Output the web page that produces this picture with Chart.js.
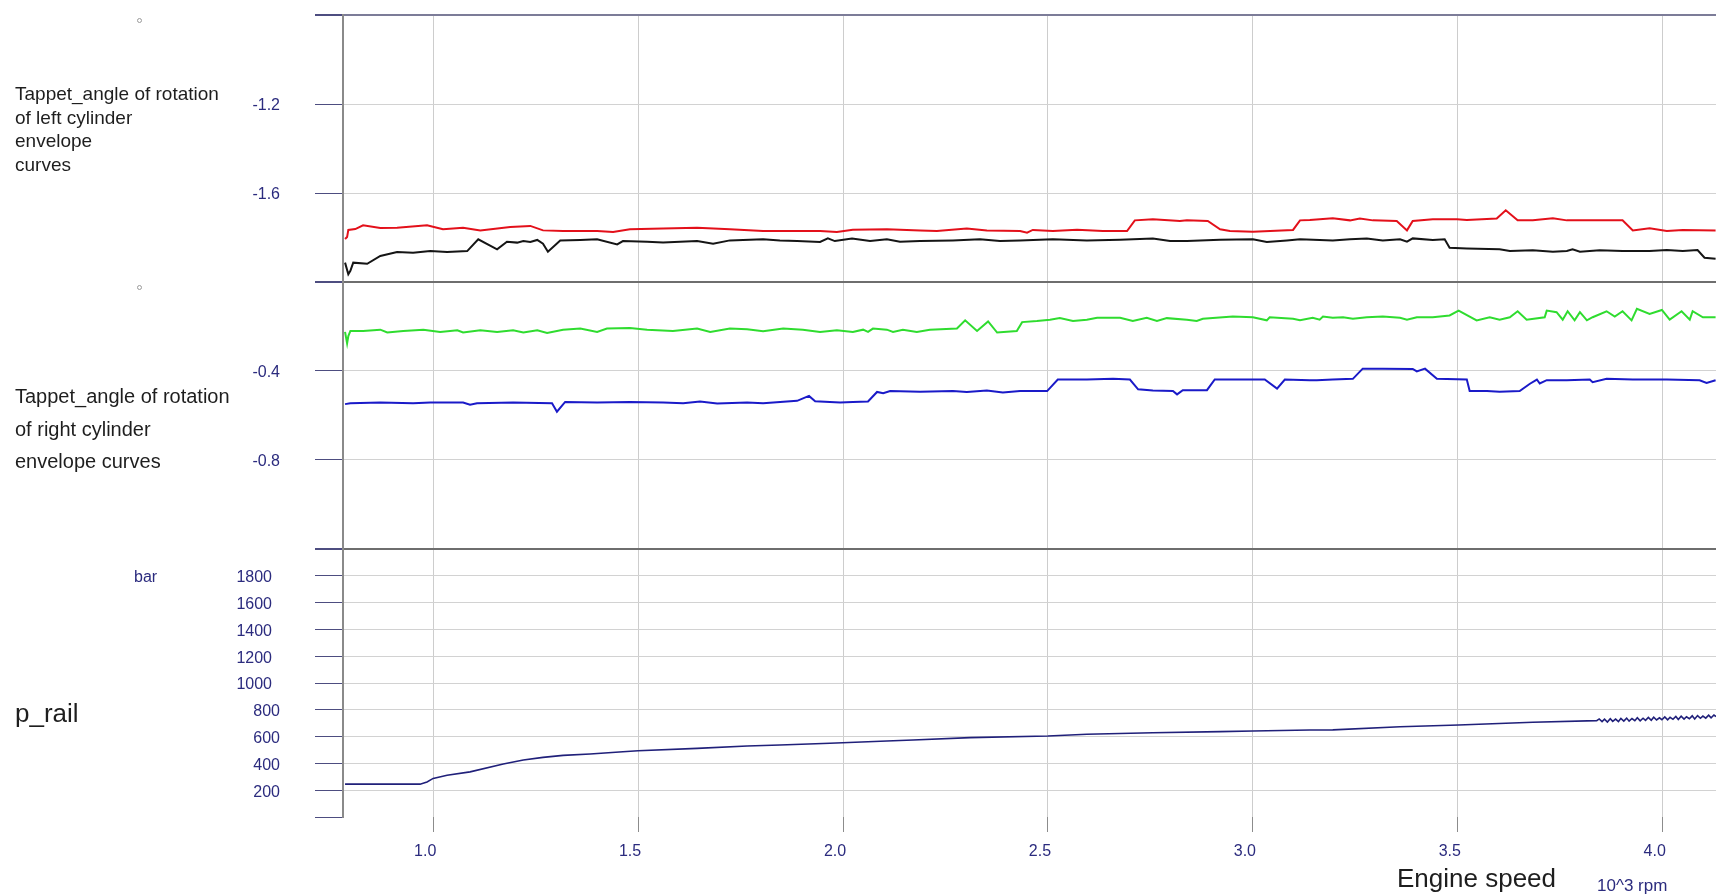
<!DOCTYPE html>
<html>
<head>
<meta charset="utf-8">
<title>Tappet angle envelope curves and rail pressure</title>
<script src="https://cdn.jsdelivr.net/npm/chart.js@4.4.1/dist/chart.umd.min.js"></script>
<style>
  html, body { margin: 0; padding: 0; background: #fff; }
  body { width: 1716px; height: 896px; position: relative; overflow: hidden; font-family: 'Liberation Sans', Arial, sans-serif; }
  canvas { position: absolute; left: 0; }
  .label { position: absolute; color: #1e1e1e; white-space: nowrap; }
  .unit { color: #2b2b7e; }
  .dot { position: absolute; width: 3px; height: 3px; border: 1px solid #9a9a9a; border-radius: 50%; }
</style>
</head>
<body>
<canvas id="left-chart" width="1716" height="292" style="top:0"></canvas>
<canvas id="right-chart" width="1716" height="286" style="top:272px"></canvas>
<canvas id="rail-chart" width="1716" height="357" style="top:539px"></canvas>

<div class="dot" style="left:137px; top:18px"></div>
<div class="dot" style="left:137px; top:285px"></div>

<div class="label" style="left:15px; top:82px; font-size:19px; line-height:23.6px;">Tappet_angle of rotation<br>of left cylinder<br>envelope<br>curves</div>
<div class="label" style="left:15px; top:380px; font-size:20px; line-height:32.5px;">Tappet_angle of rotation<br>of right cylinder<br>envelope curves</div>
<div class="label" style="left:15px; top:700px; font-size:26px; line-height:26px;">p_rail</div>
<div class="label unit" style="left:134px; top:569px; font-size:16px; line-height:16px;">bar</div>
<div class="label" style="left:1397px; top:865px; font-size:26px; line-height:26px;">Engine speed</div>
<div class="label unit" style="left:1597px; top:877px; font-size:17px; line-height:17px;">10^3 rpm</div>

<script>
// engine speed in 10^3 rpm, one x array per trace
const redX = [0.785, 0.790, 0.793, 0.810, 0.829, 0.871, 0.912, 0.985, 1.024, 1.073, 1.115, 1.188, 1.237, 1.268, 1.317, 1.400, 1.439, 1.480, 1.561, 1.644, 1.724, 1.805, 1.888, 1.944, 1.985, 2.024, 2.107, 2.188, 2.229, 2.302, 2.351, 2.432, 2.449, 2.463, 2.512, 2.571, 2.634, 2.693, 2.712, 2.756, 2.822, 2.839, 2.890, 2.920, 2.944, 3.000, 3.098, 3.115, 3.139, 3.195, 3.237, 3.261, 3.293, 3.351, 3.376, 3.390, 3.439, 3.498, 3.522, 3.595, 3.617, 3.646, 3.683, 3.732, 3.766, 3.846, 3.902, 3.927, 3.968, 4.010, 4.049, 4.129];
const redY = [-1.807, -1.798, -1.766, -1.762, -1.745, -1.757, -1.756, -1.745, -1.763, -1.756, -1.768, -1.753, -1.748, -1.768, -1.771, -1.771, -1.775, -1.763, -1.759, -1.756, -1.763, -1.771, -1.771, -1.771, -1.775, -1.765, -1.763, -1.768, -1.771, -1.760, -1.768, -1.771, -1.778, -1.766, -1.771, -1.765, -1.771, -1.771, -1.723, -1.718, -1.726, -1.723, -1.726, -1.763, -1.771, -1.774, -1.766, -1.723, -1.721, -1.714, -1.723, -1.715, -1.723, -1.726, -1.768, -1.726, -1.718, -1.718, -1.721, -1.715, -1.678, -1.723, -1.723, -1.714, -1.723, -1.723, -1.723, -1.768, -1.759, -1.771, -1.766, -1.768];

const blackX = [0.785, 0.793, 0.798, 0.805, 0.839, 0.871, 0.912, 0.951, 0.993, 1.034, 1.083, 1.110, 1.156, 1.180, 1.205, 1.220, 1.237, 1.254, 1.268, 1.280, 1.310, 1.359, 1.400, 1.449, 1.463, 1.522, 1.561, 1.644, 1.683, 1.724, 1.805, 1.846, 1.888, 1.944, 1.963, 1.980, 2.022, 2.066, 2.107, 2.139, 2.188, 2.268, 2.334, 2.383, 2.432, 2.512, 2.595, 2.676, 2.756, 2.798, 2.839, 2.920, 3.000, 3.034, 3.083, 3.115, 3.195, 3.237, 3.278, 3.317, 3.359, 3.376, 3.390, 3.439, 3.468, 3.480, 3.522, 3.602, 3.627, 3.683, 3.732, 3.766, 3.780, 3.798, 3.846, 3.902, 3.968, 4.010, 4.049, 4.085, 4.102, 4.129];
const blackY = [-1.913, -1.965, -1.950, -1.913, -1.918, -1.883, -1.865, -1.868, -1.861, -1.865, -1.861, -1.808, -1.853, -1.819, -1.823, -1.816, -1.820, -1.811, -1.828, -1.864, -1.813, -1.811, -1.808, -1.831, -1.816, -1.819, -1.823, -1.816, -1.828, -1.813, -1.808, -1.813, -1.816, -1.820, -1.804, -1.816, -1.804, -1.816, -1.808, -1.819, -1.816, -1.813, -1.808, -1.816, -1.813, -1.808, -1.813, -1.810, -1.805, -1.816, -1.816, -1.810, -1.808, -1.820, -1.813, -1.808, -1.813, -1.808, -1.804, -1.813, -1.808, -1.819, -1.804, -1.811, -1.808, -1.846, -1.849, -1.853, -1.861, -1.857, -1.864, -1.861, -1.853, -1.864, -1.857, -1.861, -1.861, -1.856, -1.861, -1.856, -1.891, -1.895];

const greenX = [0.785, 0.790, 0.793, 0.798, 0.829, 0.871, 0.888, 0.927, 0.976, 1.017, 1.059, 1.073, 1.115, 1.156, 1.195, 1.220, 1.254, 1.278, 1.317, 1.359, 1.400, 1.424, 1.480, 1.522, 1.585, 1.644, 1.676, 1.724, 1.766, 1.805, 1.854, 1.902, 1.944, 1.985, 2.024, 2.049, 2.061, 2.073, 2.107, 2.122, 2.146, 2.180, 2.212, 2.278, 2.298, 2.327, 2.354, 2.376, 2.424, 2.437, 2.473, 2.505, 2.529, 2.561, 2.595, 2.620, 2.676, 2.707, 2.741, 2.766, 2.790, 2.839, 2.863, 2.878, 2.951, 3.000, 3.034, 3.041, 3.098, 3.115, 3.146, 3.163, 3.171, 3.195, 3.220, 3.244, 3.278, 3.317, 3.359, 3.376, 3.400, 3.439, 3.480, 3.502, 3.546, 3.578, 3.602, 3.627, 3.646, 3.668, 3.712, 3.717, 3.741, 3.756, 3.768, 3.785, 3.798, 3.815, 3.829, 3.863, 3.883, 3.902, 3.924, 3.937, 3.968, 3.998, 4.017, 4.046, 4.066, 4.073, 4.098, 4.129];
const greenY = [-0.225, -0.277, -0.244, -0.221, -0.221, -0.215, -0.228, -0.221, -0.215, -0.225, -0.218, -0.228, -0.218, -0.225, -0.218, -0.228, -0.218, -0.230, -0.215, -0.210, -0.225, -0.210, -0.208, -0.215, -0.221, -0.210, -0.225, -0.210, -0.213, -0.222, -0.210, -0.215, -0.225, -0.218, -0.225, -0.215, -0.225, -0.210, -0.215, -0.225, -0.215, -0.225, -0.215, -0.210, -0.173, -0.221, -0.178, -0.228, -0.221, -0.181, -0.176, -0.170, -0.163, -0.176, -0.170, -0.161, -0.161, -0.176, -0.161, -0.176, -0.163, -0.170, -0.176, -0.166, -0.156, -0.159, -0.173, -0.159, -0.166, -0.173, -0.161, -0.170, -0.156, -0.161, -0.159, -0.166, -0.159, -0.156, -0.161, -0.170, -0.159, -0.159, -0.151, -0.129, -0.173, -0.159, -0.170, -0.159, -0.132, -0.170, -0.159, -0.129, -0.136, -0.170, -0.132, -0.173, -0.136, -0.173, -0.159, -0.132, -0.156, -0.132, -0.173, -0.121, -0.144, -0.126, -0.170, -0.132, -0.170, -0.132, -0.159, -0.159];

const blueX = [0.785, 0.798, 0.871, 0.951, 0.993, 1.073, 1.090, 1.107, 1.195, 1.290, 1.302, 1.322, 1.400, 1.480, 1.561, 1.610, 1.651, 1.693, 1.766, 1.805, 1.888, 1.917, 1.932, 1.968, 1.993, 2.024, 2.061, 2.083, 2.098, 2.115, 2.188, 2.268, 2.302, 2.351, 2.390, 2.432, 2.498, 2.524, 2.595, 2.659, 2.700, 2.720, 2.756, 2.805, 2.815, 2.829, 2.888, 2.907, 3.029, 3.059, 3.078, 3.139, 3.156, 3.195, 3.244, 3.268, 3.317, 3.390, 3.400, 3.420, 3.449, 3.522, 3.529, 3.571, 3.602, 3.651, 3.676, 3.693, 3.700, 3.717, 3.766, 3.822, 3.829, 3.863, 3.927, 4.010, 4.090, 4.107, 4.129];
const blueY = [-0.551, -0.547, -0.544, -0.547, -0.544, -0.544, -0.554, -0.547, -0.544, -0.547, -0.585, -0.541, -0.544, -0.541, -0.544, -0.547, -0.539, -0.548, -0.544, -0.547, -0.536, -0.514, -0.538, -0.541, -0.544, -0.541, -0.539, -0.496, -0.502, -0.492, -0.495, -0.492, -0.496, -0.489, -0.499, -0.492, -0.492, -0.440, -0.440, -0.437, -0.440, -0.484, -0.489, -0.492, -0.507, -0.488, -0.488, -0.440, -0.440, -0.481, -0.440, -0.443, -0.443, -0.440, -0.437, -0.391, -0.391, -0.392, -0.403, -0.391, -0.437, -0.440, -0.492, -0.492, -0.495, -0.492, -0.459, -0.440, -0.458, -0.443, -0.443, -0.440, -0.452, -0.437, -0.440, -0.440, -0.443, -0.455, -0.443];

const railX = [0.785, 0.968, 0.985, 1.000, 1.034, 1.090, 1.171, 1.220, 1.268, 1.317, 1.383, 1.463, 1.500, 1.644, 1.766, 1.846, 1.968, 2.107, 2.171, 2.310, 2.500, 2.595, 2.756, 2.920, 3.000, 3.139, 3.195, 3.359, 3.502, 3.683, 3.839,
  3.845, 3.852, 3.858, 3.865, 3.872, 3.878, 3.885, 3.892, 3.898, 3.905, 3.912, 3.918, 3.925, 3.932, 3.938, 3.945, 3.952, 3.958, 3.965, 3.972, 3.978, 3.985, 3.992, 3.998, 4.005, 4.012, 4.018, 4.025, 4.032, 4.038, 4.045, 4.052, 4.058, 4.065, 4.072, 4.078, 4.085, 4.092, 4.098, 4.105, 4.112, 4.118, 4.125, 4.130];
const railY = [245, 245, 262, 288, 312, 337, 395, 425, 445, 460, 470, 487, 494, 512, 530, 537, 550, 567, 575, 592, 604, 617, 629, 637, 642, 649, 650, 674, 687, 707, 719,
  732, 712, 730, 709, 734, 714, 731, 712, 736, 716, 738, 715, 735, 719, 741, 718, 737, 721, 743, 722, 745, 724, 740, 726, 747, 725, 744, 729, 750, 728, 752, 731, 748, 733, 755, 732, 757, 737, 753, 738, 760, 740, 761, 750];

const X_MIN = 0.78;
const X_MAX = 4.13;
const TICK_COLOR = '#2b2b7e';

Chart.defaults.font.family = "'Liberation Sans', Arial, sans-serif";

function points(xs, ys) {
  return xs.map((x, i) => ({ x: x, y: ys[i] }));
}

function trace(label, xs, ys, color, width) {
  return {
    label: label,
    data: points(xs, ys),
    borderColor: color,
    borderWidth: width,
    pointRadius: 0,
    tension: 0,
    fill: false
  };
}

function xAxis(withLabels) {
  return {
    type: 'linear',
    min: X_MIN,
    max: X_MAX,
    border: { display: false },
    grid: { color: '#cdcdcd', lineWidth: 1, drawTicks: withLabels, tickLength: 15, tickColor: '#8c8c8c' },
    ticks: {
      display: withLabels,
      stepSize: 0.5,
      includeBounds: false,
      autoSkip: false,
      maxRotation: 0,
      padding: 10,
      labelOffset: -8,
      color: TICK_COLOR,
      font: { size: 16 },
      callback: v => v.toFixed(1)
    },
    afterFit: s => {
      s.height = withLabels ? 79 : 0;
      s.paddingLeft = 0;
      s.paddingRight = 0;
    }
  };
}

// panel y axis: top edge drawn as a dark separator, bottom edge left to the panel below
function yAxis(min, max, step, topColor, format) {
  return {
    min: min,
    max: max,
    border: { display: true, color: '#8a8a8a', width: 2 },
    grid: {
      tickLength: 28,
      tickColor: '#4d4d80',
      color: ctx => {
        const last = ctx.scale.ticks.length - 1;
        if (ctx.index === last) return topColor;
        if (ctx.index === 0) return 'rgba(0,0,0,0)';
        return '#d2d2d2';
      },
      lineWidth: ctx => (ctx.index === ctx.scale.ticks.length - 1 ? 2 : 1)
    },
    ticks: {
      stepSize: step,
      autoSkip: false,
      maxTicksLimit: 20,
      padding: 35,
      labelOffset: 2,
      color: TICK_COLOR,
      font: { size: 16 },
      callback: (v, i, ticks) => (i === 0 || i === ticks.length - 1 ? '' : format(v))
    },
    afterFit: s => {
      s.width = 343;
      s.paddingTop = 0;
      s.paddingBottom = 0;
    }
  };
}

function makePanel(id, datasets, y, padding, withLabels) {
  return new Chart(document.getElementById(id), {
    type: 'line',
    data: { datasets: datasets },
    options: {
      responsive: false,
      animation: false,
      layout: { padding: padding },
      plugins: { legend: { display: false }, tooltip: { enabled: false } },
      scales: { x: xAxis(withLabels), y: y }
    }
  });
}

const oneDecimal = v => v.toFixed(1);
// four-digit pressures sit a little further left than the three-digit ones
const pressure = v => (v >= 1000 ? v + '\u2002' : String(v));

makePanel('left-chart', [
  trace('left max', redX, redY, '#e3101a', 2),
  trace('left min', blackX, blackY, '#151515', 2)
], yAxis(-2.0, -0.8, 0.4, '#7c7c98', oneDecimal), { top: 15, bottom: 10, left: 0, right: 0 }, false);

makePanel('right-chart', [
  trace('right max', greenX, greenY, '#2fdc2f', 2),
  trace('right min', blueX, blueY, '#1a1ac8', 2)
], yAxis(-1.2, 0, 0.4, '#6e6e6e', oneDecimal), { top: 10, bottom: 10, left: 0, right: 0 }, false);

makePanel('rail-chart', [
  trace('p_rail', railX, railY, '#20207a', 1.6)
], yAxis(0, 2000, 200, '#6e6e6e', pressure), { top: 10, bottom: 0, left: 0, right: 0 }, true);
</script>
</body>
</html>
